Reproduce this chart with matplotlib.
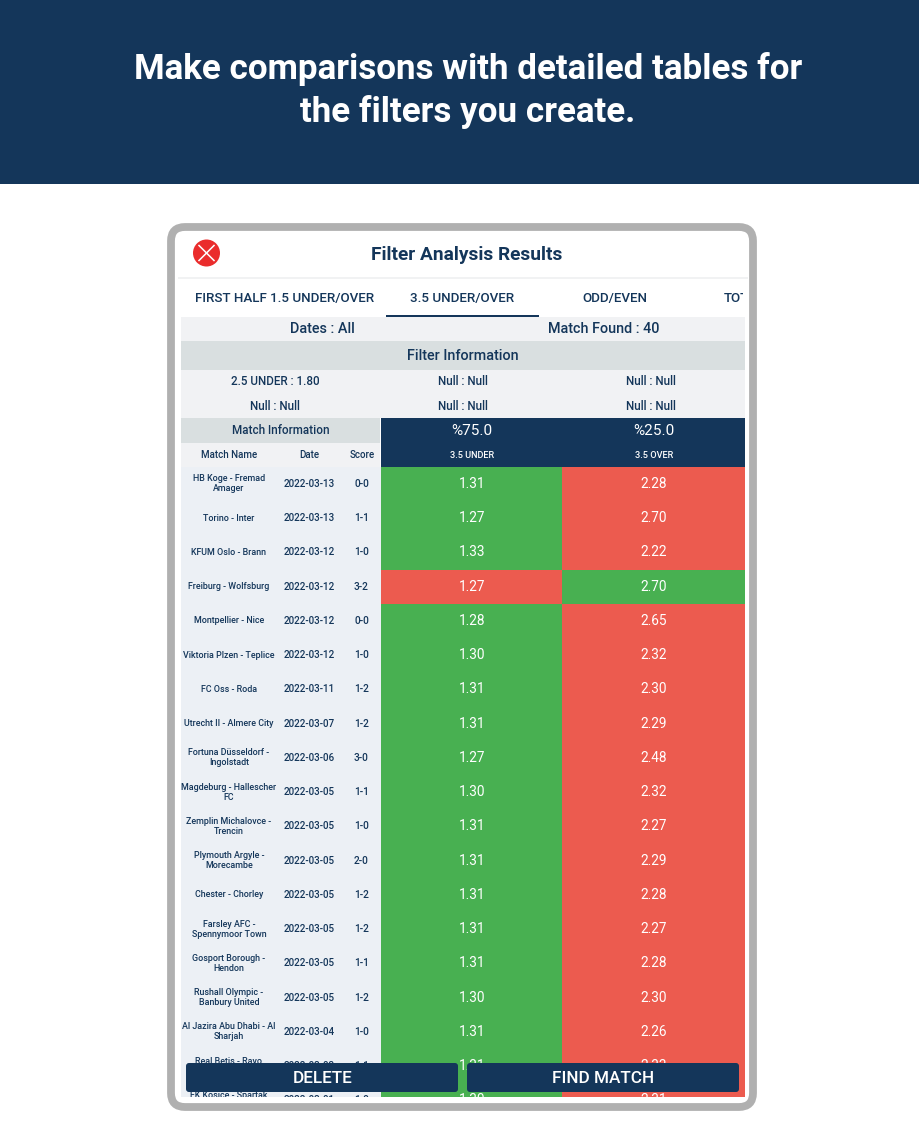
import matplotlib
matplotlib.use("Agg")
import matplotlib.pyplot as plt
from matplotlib.patches import Rectangle, FancyBboxPatch, Circle

plt.rcParams['font.family'] = ['Roboto', 'DejaVu Sans']

NAVY = "#14365a"
GREEN = "#48b051"
RED = "#ec5b4f"

headline = ["Make comparisons with detailed tables for", "the filters you create."]
tabs = ["FIRST HALF 1.5 UNDER/OVER", "3.5 UNDER/OVER", "ODD/EVEN", "TOTAL"]
filter_info = [["2.5 UNDER : 1.80", "Null : Null", "Null : Null"],
               ["Null : Null", "Null : Null", "Null : Null"]]

match_names = ["HB Koge - Fremad\nAmager", "Torino - Inter", "KFUM Oslo - Brann", "Freiburg - Wolfsburg",
               "Montpellier - Nice", "Viktoria Plzen - Teplice", "FC Oss - Roda", "Utrecht II - Almere City",
               "Fortuna Düsseldorf -\nIngolstadt", "Magdeburg - Hallescher\nFC", "Zemplin Michalovce -\nTrencin",
               "Plymouth Argyle -\nMorecambe", "Chester - Chorley", "Farsley AFC -\nSpennymoor Town",
               "Gosport Borough -\nHendon", "Rushall Olympic -\nBanbury United", "Al Jazira Abu Dhabi - Al\nSharjah",
               "Real Betis - Rayo\nVallecano", "FK Kosice - Spartak\nTrnava"]
dates = ["2022-03-13", "2022-03-13", "2022-03-12", "2022-03-12", "2022-03-12", "2022-03-12", "2022-03-11",
         "2022-03-07", "2022-03-06", "2022-03-05", "2022-03-05", "2022-03-05", "2022-03-05", "2022-03-05",
         "2022-03-05", "2022-03-05", "2022-03-04", "2022-03-03", "2022-03-01"]
scores = ["0-0", "1-1", "1-0", "3-2", "0-0", "1-0", "1-2", "1-2", "3-0", "1-1", "1-0", "2-0", "1-2", "1-2",
          "1-1", "1-2", "1-0", "1-1", "1-0"]
under_odds = ["1.31", "1.27", "1.33", "1.27", "1.28", "1.30", "1.31", "1.31", "1.27", "1.30", "1.31", "1.31",
              "1.31", "1.31", "1.31", "1.30", "1.31", "1.31", "1.30"]
over_odds = ["2.28", "2.70", "2.22", "2.70", "2.65", "2.32", "2.30", "2.29", "2.48", "2.32", "2.27", "2.29",
             "2.28", "2.27", "2.28", "2.30", "2.26", "2.33", "2.31"]

fig = plt.figure(figsize=(9.2, 11.48), dpi=100)
ax = fig.add_axes([0, 0, 1, 1])
ax.set_xlim(0, 920)
ax.set_ylim(1148, 0)
ax.axis("off")


def box(x0, y0, x1, y1, color, z=1):
    ax.add_patch(Rectangle((x0, y0), x1 - x0, y1 - y0, fc=color, ec="none", zorder=z))


def label(x, y, s, size, color=NAVY, weight="medium", z=5, clip=None, **kw):
    t = ax.text(x, y + 0.8, s, fontsize=size, color=color, fontweight=weight, ha="center", va="center",
                zorder=z, linespacing=1.15, **kw)
    if clip is not None:
        t.set_clip_path(clip)
        t.set_clip_on(True)
    return t


# top banner
box(0, 0, 920, 184, NAVY)
label(468, 68.5, headline[0], 25.2, "white", "bold")
label(468, 111, headline[1], 25.2, "white", "bold")

# device frame
ax.add_patch(FancyBboxPatch((171, 227), 582, 880, boxstyle="round,pad=0,rounding_size=14",
                            fc="white", ec="#b0b0b0", lw=5.6, zorder=1))

# title row
ax.add_patch(Circle((206.5, 253), 13.5, fc="#ea2c2c", ec="none", zorder=3))
ax.plot([199, 214], [245.5, 260.5], color="white", lw=1.1, zorder=4)
ax.plot([199, 214], [260.5, 245.5], color="white", lw=1.1, zorder=4)
label(467, 254, "Filter Analysis Results", 13.8, weight="bold")
box(178, 277, 748, 279, "#f1f2f3", 2)

# tabs
tab_clip = Rectangle((178, 280), 565, 36, transform=ax.transData)
for x, name in zip([285, 462, 615, 744], tabs):
    label(x, 297.5, name, 9.6, clip=tab_clip)
box(386, 315, 539, 317, NAVY, 3)

# info blocks
box(181, 317, 745, 341, "#f1f2f4", 2)
label(322, 328.5, "Dates : All", 10.4)
label(604, 328.5, "Match Found : 40", 10.4)
box(181, 341, 745, 370, "#d9dfe0", 2)
label(463, 355, "Filter Information", 10.4)
box(181, 370, 745, 418, "#f1f2f4", 2)
for y, row in zip([381, 405.5], filter_info):
    for x, s in zip([275, 463, 651], row):
        label(x, y, s, 8.4)

# table header
box(181, 418, 380, 443, "#d9dfe0", 2)
label(281, 430, "Match Information", 8.4)
box(181, 443, 380, 467, "#f1f2f4", 2)
box(381, 418, 745, 467, NAVY, 2)
label(229, 454.5, "Match Name", 7)
label(309, 454.5, "Date", 7)
label(362, 454.5, "Score", 7)
label(472, 430, "%75.0", 11, "white", "normal")
label(654, 430, "%25.0", 11, "white", "normal")
label(472, 454.5, "3.5 UNDER", 6.6, "white")
label(654, 454.5, "3.5 OVER", 6.6, "white")

# table rows, clipped at the bottom of the panel
row_h = 34.25
bottom = 1097
body_clip = Rectangle((181, 467), 564, bottom - 467, transform=ax.transData)
box(181, 467, 381, bottom, "#ecf0f5", 2)
for i in range(len(match_names)):
    y0 = 467 + i * row_h
    y1 = min(y0 + row_h, bottom)
    yc = y0 + row_h / 2 - 1.1
    under_won = int(scores[i][0]) + int(scores[i][2]) < 4
    box(381, y0, 562, y1, GREEN if under_won else RED, 2)
    box(562, y0, 745, y1, RED if under_won else GREEN, 2)
    label(229, yc, match_names[i], 6.4, clip=body_clip)
    label(309.5, yc, dates[i], 7.1, clip=body_clip)
    label(361.5, yc, scores[i], 7.3, clip=body_clip)
    label(472, yc, under_odds[i], 9.8, "white", "normal", clip=body_clip)
    label(654, yc, over_odds[i], 9.8, "white", "normal", clip=body_clip)

# bottom buttons
for x0, x1, s in [(186, 458, "DELETE"), (467, 739, "FIND MATCH")]:
    ax.add_patch(FancyBboxPatch((x0, 1063), x1 - x0, 29, boxstyle="round,pad=0,rounding_size=3",
                                fc=NAVY, ec="none", zorder=6))
    label((x0 + x1) / 2 + 0.5, 1077.5, s, 12.3, "white", z=7)

fig.savefig("out.png", dpi=100)
